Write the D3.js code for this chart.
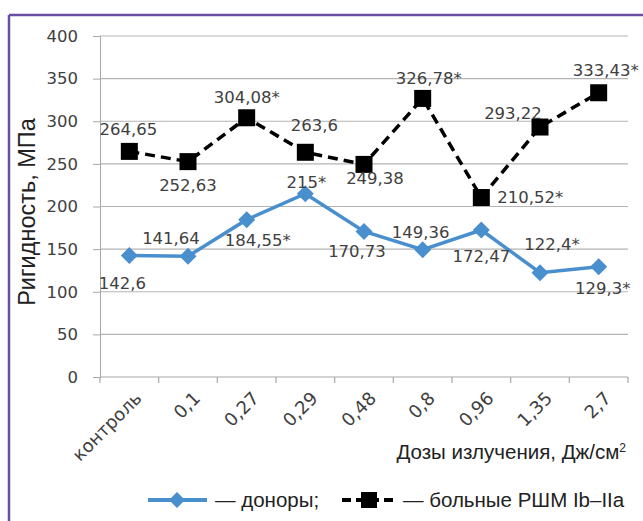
<!DOCTYPE html>
<html>
<head>
<meta charset="utf-8">
<script src="https://cdn.jsdelivr.net/npm/d3@7"></script>
<style>
  body { margin: 0; background: #fff; }
  svg { display: block; }
</style>
</head>
<body>
<svg id="chart"></svg>
<script>
const categories = ["контроль", "0,1", "0,27", "0,29", "0,48", "0,8", "0,96", "1,35", "2,7"];
const donors = [142.6, 141.64, 184.55, 215, 170.73, 149.36, 172.47, 122.4, 129.3];
const patients = [264.65, 252.63, 304.08, 263.6, 249.38, 326.78, 210.52, 293.22, 333.43];
const donorLabels = ["142,6", "141,64", "184,55*", "215*", "170,73", "149,36", "172,47", "122,4*", "129,3*"];
const patientLabels = ["264,65", "252,63", "304,08*", "263,6", "249,38", "326,78*", "210,52*", "293,22", "333,43*"];
const yTicks = [0, 50, 100, 150, 200, 250, 300, 350, 400];

// label nudges (px) from each point, roughly as in the original
const donorOffsets = [[-7, 28], [-17, -18], [11, 20], [1, -12], [-7, 20], [-2, -18], [0, 26], [12, -29], [4, 21]];
const patientOffsets = [[-1, -22], [0, 23], [0, -21], [9, -27], [11, 14], [6, -20], [49, 0], [-27, -14], [7, -23]];

const width = 643;
const height = 521;
const margin = { top: 36, right: 15, bottom: 144, left: 100 };

const svg = d3.select("#chart")
    .attr("width", width)
    .attr("height", height);

// frame (only top and left edges show)
svg.append("line").attr("x1", 9).attr("x2", width).attr("y1", 15).attr("y2", 15)
    .attr("stroke", "#6a4ea3").attr("stroke-width", 2.5);
svg.append("line").attr("x1", 9).attr("x2", 9).attr("y1", 15).attr("y2", height)
    .attr("stroke", "#6a4ea3").attr("stroke-width", 2.5);

const x = d3.scaleBand()
    .domain(categories)
    .range([margin.left, 628])
    .padding(0);

const y = d3.scaleLinear()
    .domain([0, 400])
    .range([height - margin.bottom, margin.top]);

const cx = d => x(d) + x.bandwidth() / 2;

// grid
svg.append("g")
    .selectAll("line")
    .data(yTicks.slice(1))
    .join("line")
    .attr("x1", margin.left)
    .attr("x2", 628)
    .attr("y1", d => y(d))
    .attr("y2", d => y(d))
    .attr("stroke", "#b4b4b4")
    .attr("stroke-width", 1.2);

const yAxis = svg.append("g")
    .attr("transform", `translate(${margin.left},0)`)
    .call(d3.axisLeft(y).tickValues(yTicks).tickSize(7).tickPadding(15));
yAxis.select(".domain").attr("stroke", "#a8a8a8");
yAxis.selectAll(".tick line").attr("stroke", "#a8a8a8");
yAxis.selectAll("text")
    .attr("fill", "#404040")
    .style("font-family", "'DejaVu Sans', sans-serif")
    .style("font-size", "16.5px");

// x axis with ticks between categories
const xg = svg.append("g").attr("transform", `translate(0,${y(0)})`);
xg.append("line").attr("x1", margin.left).attr("x2", 628)
    .attr("stroke", "#a8a8a8").attr("stroke-width", 1.2);
xg.selectAll(".tk")
    .data(categories.concat([null]))
    .join("line")
    .attr("class", "tk")
    .attr("x1", (d, i) => margin.left + i * x.bandwidth())
    .attr("x2", (d, i) => margin.left + i * x.bandwidth())
    .attr("y1", 0).attr("y2", 6)
    .attr("stroke", "#a8a8a8").attr("stroke-width", 1.2);
xg.selectAll(".lbl")
    .data(categories)
    .join("text")
    .attr("class", "lbl")
    .attr("transform", d => `translate(${cx(d) + 9},${18}) rotate(-45)`)
    .attr("text-anchor", "end")
    .attr("dy", "0.35em")
    .attr("fill", "#404040")
    .style("font-family", "'DejaVu Sans', sans-serif")
    .style("font-size", "18px")
    .text(d => d);

// axis titles
svg.append("text")
    .attr("transform", "translate(35,212) rotate(-90)")
    .attr("text-anchor", "middle")
    .attr("fill", "#222")
    .style("font-family", "'Liberation Sans', Arial, sans-serif")
    .style("font-size", "23.5px")
    .text("Ригидность, МПа");

svg.append("text")
    .attr("x", 626)
    .attr("y", 459)
    .attr("text-anchor", "end")
    .attr("fill", "#222")
    .style("font-family", "'Liberation Sans', Arial, sans-serif")
    .style("font-size", "20.5px")
    .html("Дозы излучения, Дж/см<tspan dy='-7' font-size='12px'>2</tspan>");

const line = d3.line()
    .x((d, i) => cx(categories[i]))
    .y(d => y(d));

// patients series
svg.append("path")
    .datum(patients)
    .attr("fill", "none")
    .attr("stroke", "#000")
    .attr("stroke-width", 3.5)
    .attr("stroke-dasharray", "10,6")
    .attr("d", line);
svg.selectAll(".sq")
    .data(patients)
    .join("rect")
    .attr("class", "sq")
    .attr("x", (d, i) => cx(categories[i]) - 8.5)
    .attr("y", d => y(d) - 8.5)
    .attr("width", 17)
    .attr("height", 17)
    .attr("fill", "#000");

// donors series
const blue = "#4a8fcd";
svg.append("path")
    .datum(donors)
    .attr("fill", "none")
    .attr("stroke", blue)
    .attr("stroke-width", 3.5)
    .attr("d", line);
svg.selectAll(".dm")
    .data(donors)
    .join("path")
    .attr("class", "dm")
    .attr("transform", (d, i) => `translate(${cx(categories[i])},${y(d)})`)
    .attr("d", "M0,-8.5L8.5,0L0,8.5L-8.5,0Z")
    .attr("fill", blue);

// data labels
function addLabels(vals, texts, offs) {
    svg.append("g")
        .selectAll("text")
        .data(vals)
        .join("text")
        .attr("x", (d, i) => cx(categories[i]) + offs[i][0])
        .attr("y", (d, i) => y(d) + offs[i][1])
        .attr("dy", "0.36em")
        .attr("text-anchor", "middle")
        .attr("fill", "#404040")
        .style("font-family", "'DejaVu Sans', sans-serif")
        .style("font-size", "16.5px")
        .text((d, i) => texts[i]);
}
addLabels(patients, patientLabels, patientOffsets);
addLabels(donors, donorLabels, donorOffsets);

// legend
const lg = svg.append("g").attr("transform", "translate(0,500)");
lg.append("line").attr("x1", 148).attr("x2", 207).attr("stroke", blue).attr("stroke-width", 4);
lg.append("path").attr("transform", "translate(177,0)").attr("d", "M0,-8L8,0L0,8L-8,0Z").attr("fill", blue);
lg.append("text").attr("x", 215).attr("dy", "0.35em")
    .attr("fill", "#222")
    .style("font-family", "'Liberation Sans', Arial, sans-serif")
    .style("font-size", "20.5px")
    .text("— доноры;");
lg.append("line").attr("x1", 342).attr("x2", 398).attr("stroke", "#000").attr("stroke-width", 4)
    .attr("stroke-dasharray", "9,5");
lg.append("rect").attr("x", 361).attr("y", -8).attr("width", 16).attr("height", 16).attr("fill", "#000");
lg.append("text").attr("x", 403).attr("dy", "0.35em")
    .attr("fill", "#222")
    .style("font-family", "'Liberation Sans', Arial, sans-serif")
    .style("font-size", "20.5px")
    .text("— больные РШМ Ib–IIa");
</script>
</body>
</html>
